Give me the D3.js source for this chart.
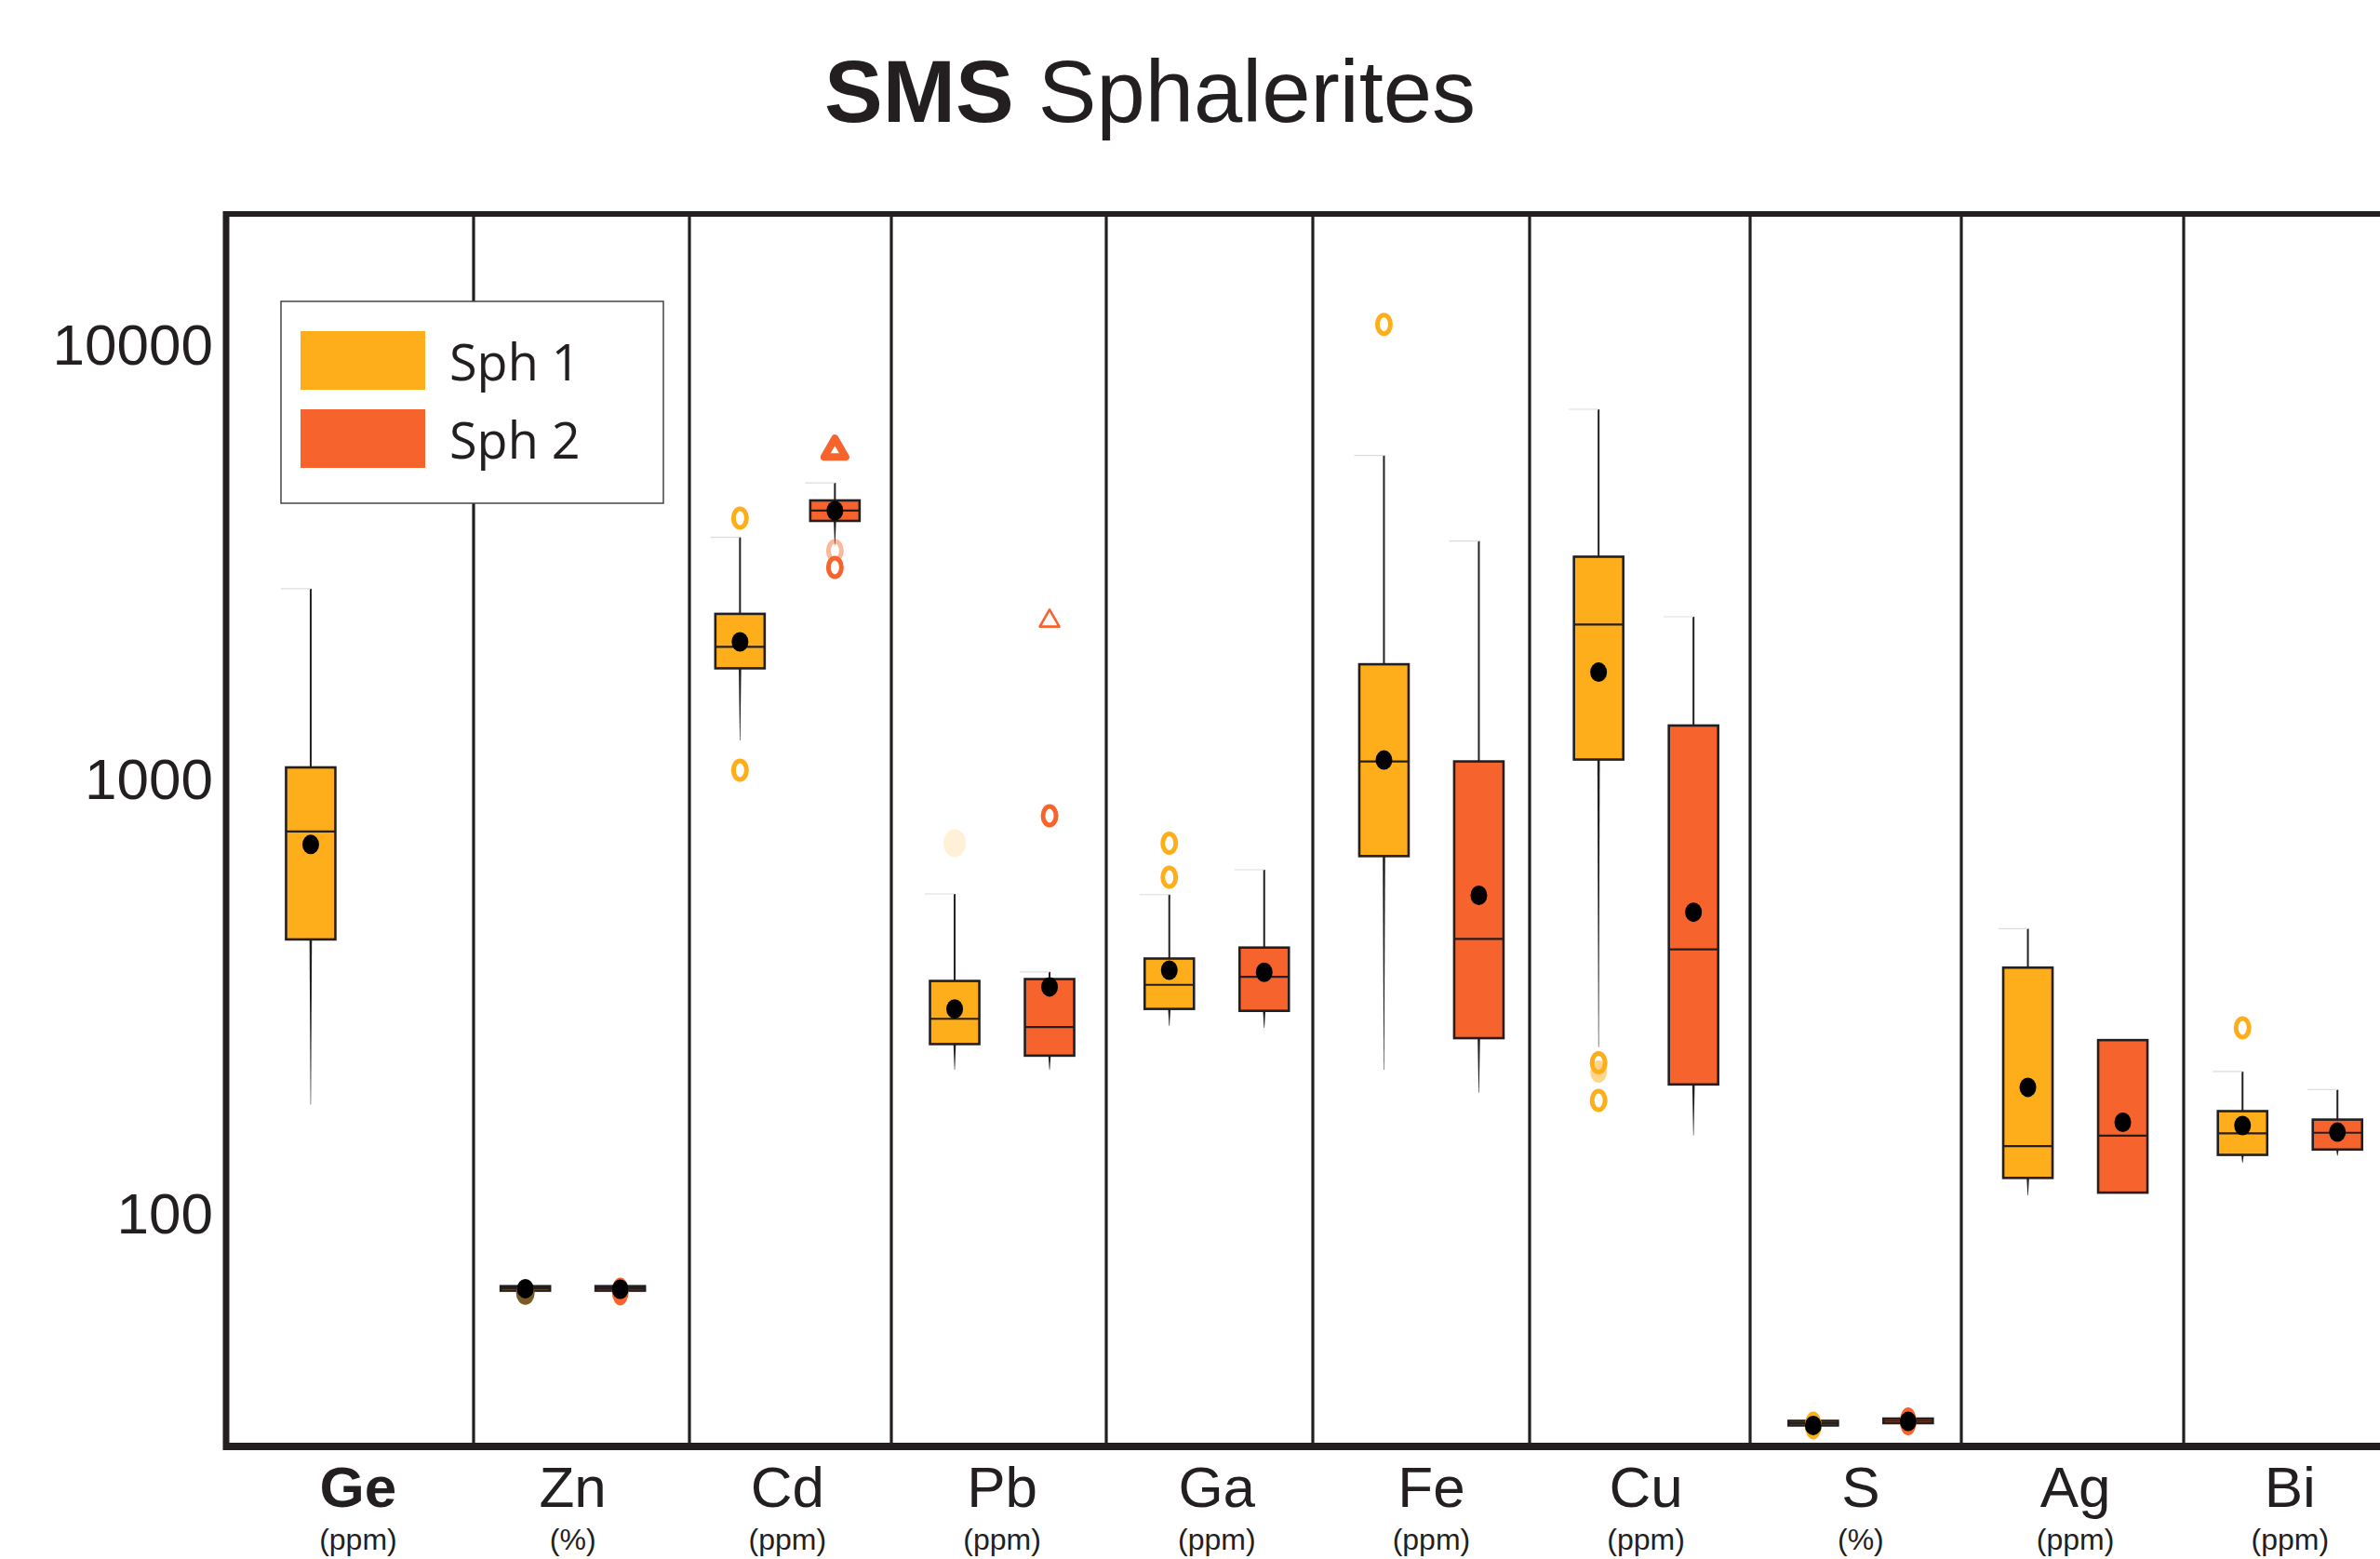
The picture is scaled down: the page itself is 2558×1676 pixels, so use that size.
<!DOCTYPE html>
<html>
<head>
<meta charset="utf-8">
<script src="https://cdn.jsdelivr.net/npm/d3@7"></script>
<style>
  html, body { margin: 0; padding: 0; background: #fff; }
  svg { display: block; }
</style>
</head>
<body>
<div id="chart"></div>
<script>
// categories and series
const elements = ['Ge', 'Zn', 'Cd', 'Pb', 'Ga', 'Fe', 'Cu', 'S', 'Ag', 'Bi'];
const units = ['(ppm)', '(%)', '(ppm)', '(ppm)', '(ppm)', '(ppm)', '(ppm)', '(%)', '(ppm)', '(ppm)'];
const series = ['Sph 1', 'Sph 2'];
const yTicks = [100, 1000, 10000];

// Sph 1 box statistics
const sph1Low    = [177, 66.0, 1221, 213, 269, 213, 240, 32.3, 109.5, 130];
const sph1Q1     = [425, 66.0, 1789, 244, 294, 661, 1103, 32.3, 120, 135.6];
const sph1Median = [753, 66.9, 2004, 279, 334, 1092, 2257, 32.7, 142, 152];
const sph1Q3     = [1058, 67.6, 2388, 341, 384, 1828, 3233, 33.1, 366, 171];
const sph1High   = [2728, 67.6, 3585, 541, 539, 5529, 7064, 33.1, 450, 211];
const sph1Mean   = [703, 66.7, 2059, 294, 361, 1100, 1753, 32.3, 194, 158.4];
const sph1Outliers = [
  [], [[65.3, 'dark']], [[3967, 'ring'], [1043, 'ring']], [[708, 'faint']],
  [[708, 'ring'], [591, 'ring']], [[11080, 'ring']],
  [[221, 'ring'], [211, 'pale'], [181, 'ring']], [[32.3, 'solid']], [], [[266, 'ring']]
];

// Sph 2 box statistics (no Ge data)
const sph2Low    = [null, 66.0, 3430, 213, 266, 188.5, 150.4, 32.7, 111, 134.9];
const sph2Q1     = [null, 66.0, 3909, 229.5, 291, 251.8, 197, 32.7, 111, 139.5];
const sph2Median = [null, 66.8, 4130, 267, 348.6, 426, 403, 33.1, 150.2, 152.5];
const sph2Q3     = [null, 67.6, 4357, 344.4, 407, 1092, 1321, 33.5, 249.2, 163.5];
const sph2High   = [null, 67.6, 4784, 357.7, 615, 3514, 2352, 33.5, 249.2, 191.6];
const sph2Mean   = [null, 66.5, 4127, 330.5, 357, 537, 491, 33.0, 161.2, 153];
const sph2Outliers = [
  [], [[65.7, 'solid']], [[5728, 'bigtri'], [3338, 'ringfaint'], [3055, 'ring']],
  [[2300, 'tri'], [819, 'ring']], [], [], [], [[33.0, 'solid']], [], []
];

const width = 2558, height = 1676;
const ink = '#231f20';
const colors = ['#fdae1a', '#f6632d'];
const frame = { left: 243, top: 230, right: width, bottom: 1555 };
const dividerX = [509, 741, 958, 1189, 1411, 1644, 1881, 2108, 2347];
const boxW = 53;

const stats = [
  { low: sph1Low, q1: sph1Q1, median: sph1Median, q3: sph1Q3, high: sph1High, mean: sph1Mean, outliers: sph1Outliers },
  { low: sph2Low, q1: sph2Q1, median: sph2Median, q3: sph2Q3, high: sph2High, mean: sph2Mean, outliers: sph2Outliers }
];

const boxes = [];
series.forEach((s, si) => {
  elements.forEach((el, i) => {
    const st = stats[si];
    if (st.q1[i] == null) return;
    boxes.push({
      element: el, series: s, si,
      low: st.low[i], q1: st.q1[i], median: st.median[i], q3: st.q3[i], high: st.high[i],
      mean: st.mean[i], outliers: st.outliers[i]
    });
  });
});

const svg = d3.select('#chart').append('svg')
  .attr('width', width)
  .attr('height', height)
  .attr('viewBox', [0, 0, width, height])
  .style('font-family', '"Liberation Sans", Arial, Helvetica, sans-serif');

const y = d3.scaleLog().domain([28.9, 19900]).range([frame.bottom, frame.top]);
const x = d3.scaleBand().domain(elements).range([269.6, 2576.6]);
const xs = d3.scalePoint().domain(series).range([-51, 51]);
const cx = d => x(d.element) + x.bandwidth() / 2 + xs(d.series);

// title
svg.append('text')
  .attr('x', 1236)
  .attr('y', 131)
  .attr('text-anchor', 'middle')
  .attr('font-size', 94)
  .attr('fill', ink)
  .call(t => t.append('tspan').attr('font-weight', 'bold').text('SMS'))
  .call(t => t.append('tspan').text(' Sphalerites'));

// panel dividers
svg.append('g')
  .attr('stroke', ink)
  .attr('stroke-width', 3.2)
  .selectAll('line')
  .data(dividerX)
  .join('line')
  .attr('x1', d => d).attr('x2', d => d)
  .attr('y1', frame.top).attr('y2', frame.bottom);

// frame
svg.append('line')
  .attr('x1', frame.left - 3).attr('x2', frame.right)
  .attr('y1', frame.top).attr('y2', frame.top)
  .attr('stroke', ink).attr('stroke-width', 6);
svg.append('line')
  .attr('x1', frame.left).attr('x2', frame.left)
  .attr('y1', frame.top - 3).attr('y2', frame.bottom + 4)
  .attr('stroke', ink).attr('stroke-width', 7);
svg.append('line')
  .attr('x1', frame.left - 3).attr('x2', frame.right)
  .attr('y1', frame.bottom).attr('y2', frame.bottom)
  .attr('stroke', ink).attr('stroke-width', 8);

// y tick labels
svg.append('g')
  .selectAll('text')
  .data(yTicks)
  .join('text')
  .attr('x', 229)
  .attr('y', d => y(d))
  .attr('dy', '0.36em')
  .attr('text-anchor', 'end')
  .attr('font-size', 62)
  .attr('fill', ink)
  .text(d => d);

// x labels
const xl = svg.append('g')
  .selectAll('g')
  .data(elements)
  .join('g')
  .attr('transform', d => `translate(${x(d) + x.bandwidth() / 2},0)`);
xl.append('text')
  .attr('y', 1620)
  .attr('text-anchor', 'middle')
  .attr('font-size', 62)
  .attr('font-weight', (d, i) => i === 0 ? 'bold' : 'normal')
  .attr('fill', ink)
  .text(d => d);
xl.append('text')
  .attr('y', 1666)
  .attr('text-anchor', 'middle')
  .attr('font-size', 32)
  .attr('fill', ink)
  .text((d, i) => units[i]);

// boxes
const bx = svg.append('g')
  .selectAll('g')
  .data(boxes)
  .join('g');

// upper whisker with faint half cap
bx.filter(d => d.high > d.q3).append('line')
  .attr('x1', cx).attr('x2', cx)
  .attr('y1', d => y(d.q3)).attr('y2', d => y(d.high))
  .attr('stroke', ink).attr('stroke-width', 2);
bx.filter(d => d.high > d.q3).append('line')
  .attr('x1', d => cx(d) - 32).attr('x2', cx)
  .attr('y1', d => y(d.high)).attr('y2', d => y(d.high))
  .attr('stroke', '#dcdcdc').attr('stroke-width', 1.2);

// lower whisker, tapering
bx.filter(d => d.low < d.q1).append('path')
  .attr('fill', ink)
  .attr('d', d => {
    const c = cx(d), a = y(d.q1), b = y(d.low);
    return `M${c - 1.3},${a}L${c + 1.3},${a}L${c + 0.25},${b}L${c - 0.25},${b}Z`;
  });

bx.append('rect')
  .attr('x', d => cx(d) - boxW / 2)
  .attr('width', boxW)
  .attr('y', d => y(d.q3))
  .attr('height', d => y(d.q1) - y(d.q3))
  .attr('fill', d => colors[d.si])
  .attr('stroke', ink)
  .attr('stroke-width', 2.6);

bx.append('line')
  .attr('x1', d => cx(d) - boxW / 2).attr('x2', d => cx(d) + boxW / 2)
  .attr('y1', d => y(d.median)).attr('y2', d => y(d.median))
  .attr('stroke', ink).attr('stroke-width', 2.2);

// outliers
const outlierData = boxes.flatMap(d => d.outliers.map(([v, kind]) => ({ box: d, v, kind })));
const og = svg.append('g');
og.selectAll('.o')
  .data(outlierData)
  .join(enter => enter.append(o => {
    const tag = (o.kind === 'tri' || o.kind === 'bigtri') ? 'path' : 'ellipse';
    return document.createElementNS('http://www.w3.org/2000/svg', tag);
  }))
  .each(function (o) {
    const el = d3.select(this);
    const c = cx(o.box), cy = y(o.v), col = colors[o.box.si];
    if (o.kind === 'tri' || o.kind === 'bigtri') {
      const big = o.kind === 'bigtri';
      el.attr('d', d3.symbol(d3.symbolTriangle, big ? 230 : 190)())
        .attr('transform', `translate(${c},${cy + (big ? 2 : 0)})`)
        .attr('fill', '#fff')
        .attr('stroke', col)
        .attr('stroke-width', big ? 8 : 2.6)
        .attr('stroke-linejoin', 'round');
      return;
    }
    el.attr('cx', c).attr('cy', cy);
    if (o.kind === 'ring' || o.kind === 'ringfaint') {
      el.attr('rx', 7).attr('ry', 10).attr('fill', '#fff')
        .attr('stroke', col).attr('stroke-width', 5)
        .attr('opacity', o.kind === 'ringfaint' ? 0.45 : 1);
    } else if (o.kind === 'faint') {
      el.attr('rx', 12).attr('ry', 15).attr('fill', col).attr('opacity', 0.17);
    } else if (o.kind === 'pale') {
      el.attr('rx', 9).attr('ry', 12).attr('fill', col).attr('opacity', 0.5);
    } else if (o.kind === 'dark') {
      el.attr('rx', 10).attr('ry', 13).attr('fill', '#7a5a26');
    } else {
      el.attr('rx', 9).attr('ry', 15).attr('fill', col);
    }
  });

// means
svg.append('g')
  .selectAll('ellipse')
  .data(boxes)
  .join('ellipse')
  .attr('cx', cx)
  .attr('cy', d => y(d.mean))
  .attr('rx', 9)
  .attr('ry', 10.5)
  .attr('fill', '#000');

// legend
const lg = svg.append('g');
lg.append('rect')
  .attr('x', 302).attr('y', 324).attr('width', 411).attr('height', 217)
  .attr('fill', '#fff').attr('stroke', '#444').attr('stroke-width', 1.5);
const li = lg.selectAll('g')
  .data(series)
  .join('g')
  .attr('transform', (d, i) => `translate(0,${i * 84})`);
li.append('rect')
  .attr('x', 323).attr('y', 356).attr('width', 134).attr('height', 63)
  .attr('fill', (d, i) => colors[i]);
li.append('text')
  .attr('x', 483).attr('y', 409)
  .attr('font-family', '"Open Sans", "Noto Sans", sans-serif')
  .attr('font-size', 54)
  .attr('fill', ink)
  .text(d => d);
</script>
</body>
</html>
